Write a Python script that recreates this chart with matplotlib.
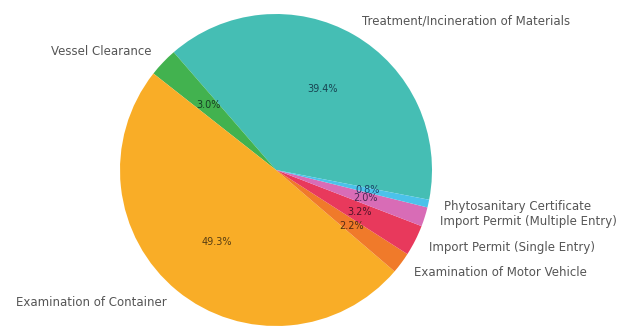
import matplotlib
matplotlib.use("Agg")
import matplotlib.pyplot as plt
import matplotlib.colors as mcolors

# Share of permit/service requests by type
categories = [
    "Treatment/Incineration of Materials",
    "Vessel Clearance",
    "Examination of Container",
    "Examination of Motor Vehicle",
    "Import Permit (Single Entry)",
    "Import Permit (Multiple Entry)",
    "Phytosanitary Certificate",
]
shares = [39.4, 3.0, 49.3, 2.2, 3.2, 2.0, 0.8]
colors = ["#45BEB4", "#42B24F", "#F9AD27", "#F07A2A", "#E8395C", "#D86CB6", "#4BC2EA"]

fig = plt.figure(figsize=(6.19, 3.29), dpi=100)
ax = fig.add_axes([0, 0, 1, 1])

wedges, texts, autotexts = ax.pie(
    shares,
    labels=categories,
    colors=colors,
    autopct="%1.1f%%",
    startangle=-11,
    counterclock=True,
    pctdistance=0.6,
    labeldistance=1.1,
    textprops={"fontsize": 8.5, "color": "#555555"},
)

# percentage labels in a darker shade of their wedge
for t, c in zip(autotexts, colors):
    r, g, b = mcolors.to_rgb(c)
    t.set_color((r * 0.35, g * 0.35, b * 0.45))
    t.set_fontsize(7)

# place the pie: centre and radius in figure pixels
cx, cy, rad = 276, 170, 156
W, H = 619, 329
ax.set_xlim(-cx / rad, (W - cx) / rad)
ax.set_ylim(-(H - cy) / rad, cy / rad)
ax.set_aspect("equal")
ax.axis("off")

fig.savefig("out.png", dpi=100)
